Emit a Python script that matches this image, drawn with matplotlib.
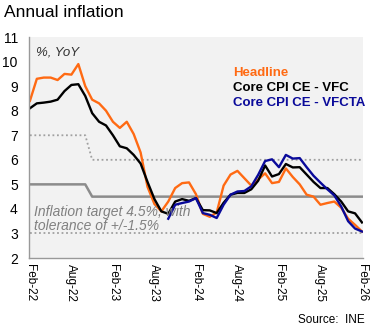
import numpy as np
import matplotlib.pyplot as plt

plt.rcParams['font.family'] = ['Liberation Sans', 'DejaVu Sans']

# Monthly data, Feb-22 .. Feb-26 (49 months)
headline = [8.4, 9.3, 9.35, 9.35, 9.25, 9.5, 9.47, 9.9, 9.0, 8.45, 8.3, 8.0,
            7.55, 7.3, 7.55, 7.05, 6.3, 4.9, 4.2, 3.9, 4.3, 4.85, 5.05, 5.08,
            4.6, 3.8, 3.68, 3.85, 4.95, 5.4, 5.55, 5.25, 4.95, 5.2, 5.45, 5.05,
            5.1, 5.65, 5.3, 5.0, 4.58, 4.5, 4.17, 4.24, 4.3, 4.05, 3.6, 3.35, 3.08]
core_vfc = [8.1, 8.3, 8.33, 8.37, 8.45, 8.8, 9.05, 9.08, 8.6, 7.9, 7.55, 7.4,
            7.0, 6.55, 6.47, 6.2, 5.85, 5.1, 4.4, 3.9, 3.8, 4.3, 4.4, 4.33,
            4.44, 3.95, 3.94, 3.83, 4.25, 4.58, 4.65, 4.65, 4.8, 5.15, 5.77, 5.32,
            5.42, 5.83, 5.69, 5.7, 5.4, 5.1, 4.85, 4.85, 4.6, 4.3, 3.9, 3.82, 3.45]
core_vfcta = [np.nan] * 20 + [
            3.6, 4.17, 4.24, 4.3,
            4.44, 3.83, 3.76, 3.63, 4.17, 4.58, 4.71, 4.73, 4.92, 5.39, 5.95, 6.02,
            5.7, 6.2, 6.05, 6.07, 5.7, 5.35, 5.07, 4.8, 4.55, 4.1, 3.5, 3.2, 3.08]
target = [5.0] * 9 + [4.5] * 40
upper = [7.0] * 9 + [6.0] * 40
lower = [3.0] * 49

tick_labels = ["Feb-22", "Aug-22", "Feb-23", "Aug-23", "Feb-24",
               "Aug-24", "Feb-25", "Aug-25", "Feb-26"]

months = np.arange(len(headline))

fig = plt.figure(figsize=(3.75, 3.31), dpi=100)
ax = fig.add_axes([0.077, 0.2205, 0.891, 0.6675])
ax.set_facecolor("#f2f2f2")

ax.plot(months, upper, color="#a0a0a0", lw=1.3, ls=(0, (1, 1.5)))
ax.plot(months, lower, color="#a0a0a0", lw=1.3, ls=(0, (1, 1.5)))
ax.plot(months, target, color="#8c8c8c", lw=1.8)
ax.plot(months, headline, color="#ff6a13", lw=1.7)
ax.plot(months, core_vfc, color="black", lw=1.7)
ax.plot(months, core_vfcta, color="#0a0a9a", lw=1.7)

ax.set_xlim(-0.15, 48.15)
ax.set_ylim(2, 11)
ax.set_yticks(range(2, 12))
ax.set_xticks(months[::6])
ax.set_xticklabels(tick_labels, rotation=270, fontsize=8.5)
ax.tick_params(axis="both", length=0, labelsize=8.5, pad=4)
ax.tick_params(axis="y", labelsize=10, pad=8)

for side in ["top", "right"]:
    ax.spines[side].set_visible(False)
for side in ["left", "bottom"]:
    ax.spines[side].set_color("#999999")
    ax.spines[side].set_linewidth(1)

ax.text(0.02, 0.93, "%, YoY", transform=ax.transAxes, fontsize=9.5,
        style="italic", color="#333333", va="center")
ax.text(0.611, 0.837, "Headline", transform=ax.transAxes, fontsize=9.5,
        fontweight="bold", color="#ff6a13", va="center")
ax.text(0.611, 0.768, "Core CPI CE - VFC", transform=ax.transAxes, fontsize=9.5,
        fontweight="bold", color="black", va="center")
ax.text(0.611, 0.700, "Core CPI CE - VFCTA", transform=ax.transAxes, fontsize=9.5,
        fontweight="bold", color="#0a0a9a", va="center")
ax.text(0.015, 0.176, "Inflation target 4.5%, with\ntolerance of +/-1.5%",
        transform=ax.transAxes, fontsize=10, style="italic", color="#808080",
        va="center", linespacing=1.05)

fig.text(0.011, 0.962, "Annual inflation", fontsize=12.5, va="center")
fig.text(0.973, 0.033, "Source:  INE", fontsize=8.5, ha="right", va="center")

fig.savefig("out.png", dpi=100)
